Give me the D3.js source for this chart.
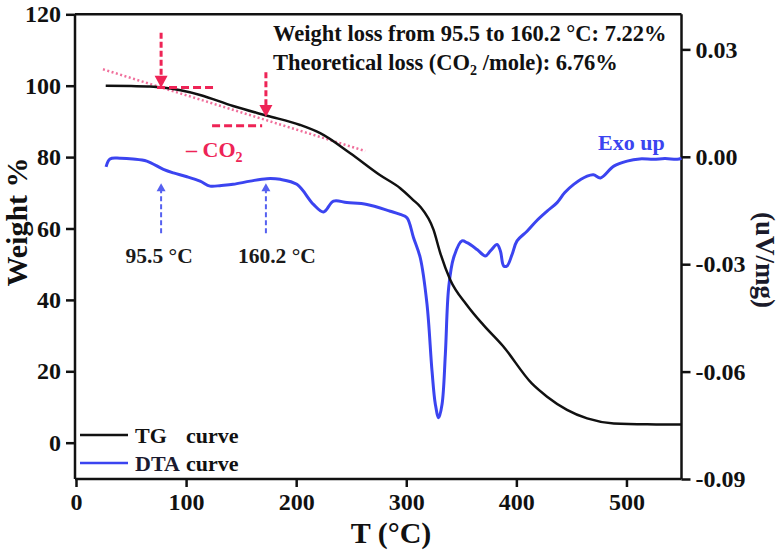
<!DOCTYPE html>
<html><head><meta charset="utf-8">
<script src="https://cdn.jsdelivr.net/npm/d3@7"></script>
<style>body{margin:0;background:#fff}svg{display:block}text{font-family:"Liberation Serif","Times New Roman",serif;font-weight:bold}</style>
</head><body>
<svg id="c" width="781" height="554"></svg>
<script>
// ---- data ----
const tgTemp = [27, 50, 67, 76.4, 95, 112.7, 142.7, 173.6, 203.6, 221.8, 249.1, 276, 294.5, 306.6, 312.7, 324.8, 330.9, 340, 355, 370, 388, 414, 427.9, 446, 464.3, 488.5, 518.8, 550];
const tgWeight = [100, 99.9, 99.8, 99.55, 98.7, 97.4, 94.3, 91.6, 89.0, 86.7, 81.1, 75.0, 71.3, 67.9, 66.1, 59.6, 53.1, 45.6, 38.6, 33.0, 27.0, 16.6, 12.9, 9.2, 6.8, 5.4, 5.15, 5.1];
const dtaTemp = [27.3, 30.9, 40, 51.8, 64.3, 79.4, 88.5, 100, 112.7, 121.8, 132, 142.7, 158.2, 173.4, 185.5, 200.6, 215.7, 224.8, 233.9, 246.1, 264.3, 285.5, 294.5, 300.6, 306.6, 312.7, 318.8, 323.4, 326.4, 329.4, 332.5, 335.5, 338.5, 343, 350.6, 355.2, 364.3, 371.8, 376.4, 382.5, 385.5, 388.5, 391.5, 396.1, 400.6, 409.7, 418, 427.9, 437, 444, 452.1, 464.3, 470, 476.4, 488.5, 500.6, 512, 524.8, 535, 546.1, 550];
const dtaValue = [-0.0028, -0.0006, -0.0004, -0.0006, -0.0012, -0.0035, -0.0045, -0.0055, -0.0068, -0.0082, -0.0080, -0.0077, -0.0068, -0.0061, -0.0063, -0.0077, -0.0133, -0.0154, -0.0124, -0.0128, -0.0133, -0.0152, -0.0161, -0.0170, -0.0226, -0.0282, -0.0411, -0.0599, -0.0691, -0.0729, -0.0691, -0.0551, -0.0366, -0.0282, -0.0235, -0.0240, -0.0259, -0.0277, -0.0263, -0.0245, -0.0263, -0.0305, -0.0305, -0.0273, -0.0235, -0.0208, -0.0180, -0.0152, -0.0128, -0.0100, -0.0077, -0.0054, -0.0050, -0.0059, -0.0026, -0.0012, -0.0006, -0.0007, -0.0005, -0.0007, -0.0004];
const xTicks = [0, 100, 200, 300, 400, 500];
const yLeftTicks = [0, 20, 40, 60, 80, 100, 120];
const yRightTicks = [-0.09, -0.06, -0.03, 0.00, 0.03];
const legendLabels = ["TG", "DTA"];
const annotLines = ["Weight loss from 95.5 to 160.2 \u00B0C: 7.22%", "Theoretical loss (CO\u2082 /mole): 6.76%"];
const markerTemps = [77.3, 172.5];
const markerLabels = ["95.5 \u00B0C", "160.2 \u00B0C"];

// ---- scales ----
const svg = d3.select("#c");
const L = 75, R = 681.5, T = 14.3, B = 479;
const x = d3.scaleLinear().domain([0, 550]).range([76, R]);
const yL = d3.scaleLinear().domain([-10.17, 120]).range([B, T]);
const yR = d3.scaleLinear().domain([-0.09, 0.0398]).range([B, T]);

const black = "#111", blue = "#3b44f0", red = "#ee2456", pink = "#f0709c";

// frame lines
svg.append("line").attr("x1", L).attr("x2", R).attr("y1", T).attr("y2", T).attr("stroke", black).attr("stroke-width", 2.5);

// axes
function styleAxis(g) {
  g.selectAll(".domain").attr("stroke", black).attr("stroke-width", 2.5);
  g.selectAll(".tick line").attr("stroke", black).attr("stroke-width", 2.5);
  g.selectAll(".tick text").attr("fill", black).style("font-size", "24px").style("font-family", '"Liberation Serif",serif').style("font-weight", "bold");
}
const gx = svg.append("g").attr("transform", `translate(0,${B})`)
  .call(d3.axisBottom(x).tickValues(xTicks).tickSize(8).tickSizeOuter(0).tickPadding(6).tickFormat(d3.format("d")));
gx.select(".domain").attr("d", `M${L},0H${R}`);
styleAxis(gx);
const gy = svg.append("g").attr("transform", `translate(${L},0)`)
  .call(d3.axisLeft(yL).tickValues(yLeftTicks).tickSize(9).tickSizeOuter(0).tickPadding(5));
gy.select(".domain").attr("d", `M0,${T}V${B}`);
styleAxis(gy);
const gr = svg.append("g").attr("transform", `translate(${R},0)`)
  .call(d3.axisRight(yR).tickValues(yRightTicks).tickSize(9).tickSizeOuter(0).tickPadding(5)
    .tickFormat(d => d3.format(".2f")(d).replace("\u2212", "-")));
gr.select(".domain").attr("d", `M0,${T}V${B}`);
styleAxis(gr);

// axis titles
svg.append("text").attr("x", 391).attr("y", 543).attr("text-anchor", "middle").style("font-size", "30px").attr("fill", black).text("T (\u00B0C)");
svg.append("text").attr("transform", "translate(27,222) rotate(-90)").attr("text-anchor", "middle").style("font-size", "30px").attr("fill", black).text("Weight %");
svg.append("text").attr("transform", "translate(756,260) rotate(90)").attr("text-anchor", "middle").style("font-size", "27px").attr("fill", "#1a1a2a").text("(uV/mg)");

// tangent (dotted pink)
const tangent = [[24.5, 104.6], [262.7, 81.7]];
svg.append("line").attr("x1", x(tangent[0][0])).attr("y1", yL(tangent[0][1])).attr("x2", x(tangent[1][0])).attr("y2", yL(tangent[1][1]))
  .attr("stroke", pink).attr("stroke-width", 2.5).attr("stroke-dasharray", "2,2.5");

// curves
const tgData = tgTemp.map((t, i) => [t, tgWeight[i]]);
const dtaData = dtaTemp.map((t, i) => [t, dtaValue[i]]);
svg.append("path").datum(dtaData).attr("fill", "none").attr("stroke", blue).attr("stroke-width", 3)
  .attr("d", d3.line().x(d => x(d[0])).y(d => yR(d[1])).curve(d3.curveCatmullRom.alpha(0.5)));
svg.append("path").datum(tgData).attr("fill", "none").attr("stroke", black).attr("stroke-width", 2.5)
  .attr("d", d3.line().x(d => x(d[0])).y(d => yL(d[1])).curve(d3.curveMonotoneX));

// red arrows & dashed horizontals
const redArrowTop = [114.8, 103.8], redArrowTip = [99.4, 91.2];
const redH = [[73.6, 124.5, 99.5], [123.6, 169.1, 88.8]];
markerTemps.forEach((t, i) => {
  const px = x(t), y0 = yL(redArrowTop[i]), y1 = yL(redArrowTip[i]);
  svg.append("line").attr("x1", px).attr("x2", px).attr("y1", y0).attr("y2", y1 - 9)
    .attr("stroke", red).attr("stroke-width", 3).attr("stroke-dasharray", "6,3");
  svg.append("path").attr("d", `M${px - 6.5},${y1 - 12}L${px + 6.5},${y1 - 12}L${px},${y1}Z`).attr("fill", red);
  const h = redH[i];
  svg.append("line").attr("x1", x(h[0])).attr("x2", x(h[1])).attr("y1", yL(h[2])).attr("y2", yL(h[2]))
    .attr("stroke", red).attr("stroke-width", 3).attr("stroke-dasharray", "8,4");
});

// blue arrows
const blueBottom = 58.7, blueTip = 72.7;
markerTemps.forEach((t, i) => {
  const px = x(t), y0 = yL(blueBottom), y1 = yL(blueTip);
  svg.append("line").attr("x1", px).attr("x2", px).attr("y1", y0).attr("y2", y1 + 7)
    .attr("stroke", "#5560f0").attr("stroke-width", 2).attr("stroke-dasharray", "5,3");
  svg.append("path").attr("d", `M${px - 4.5},${y1 + 8}L${px + 4.5},${y1 + 8}L${px},${y1}Z`).attr("fill", "#5560f0");
  svg.append("text").attr("x", px + (i === 0 ? -2 : 11)).attr("y", 263).attr("text-anchor", "middle")
    .style("font-size", "21.5px").attr("fill", "#1a1a1a").text(markerLabels[i]);
});

// annotation texts
svg.append("text").attr("x", 273).attr("y", 41).style("font-size", "22.5px").attr("fill", black).text(annotLines[0]);
const t2 = svg.append("text").attr("x", 273).attr("y", 70).style("font-size", "22.5px").attr("fill", black);
t2.append("tspan").text("Theoretical loss (CO");
t2.append("tspan").attr("dy", 5).style("font-size", "14px").text("2");
t2.append("tspan").attr("dy", -5).text(" /mole): 6.76%");

const co2 = svg.append("text").attr("x", 186).attr("y", 157).style("font-size", "22px").attr("fill", red);
co2.append("tspan").text("\u2013 CO");
co2.append("tspan").attr("dy", 5).style("font-size", "14px").text("2");

svg.append("text").attr("x", 598).attr("y", 150).style("font-size", "22px").attr("fill", blue).text("Exo up");

// legend
const legColors = [black, blue], legY = [435, 463];
legendLabels.forEach((lab, i) => {
  svg.append("line").attr("x1", 80).attr("x2", 128).attr("y1", legY[i]).attr("y2", legY[i]).attr("stroke", legColors[i]).attr("stroke-width", 2.5);
  svg.append("text").attr("x", 135).attr("y", legY[i] + 8).style("font-size", "22px").attr("fill", i === 0 ? black : "#1a1a30").text(lab);
  svg.append("text").attr("x", 186).attr("y", legY[i] + 8).style("font-size", "22px").attr("fill", black).text("curve");
});
</script>
</body></html>
